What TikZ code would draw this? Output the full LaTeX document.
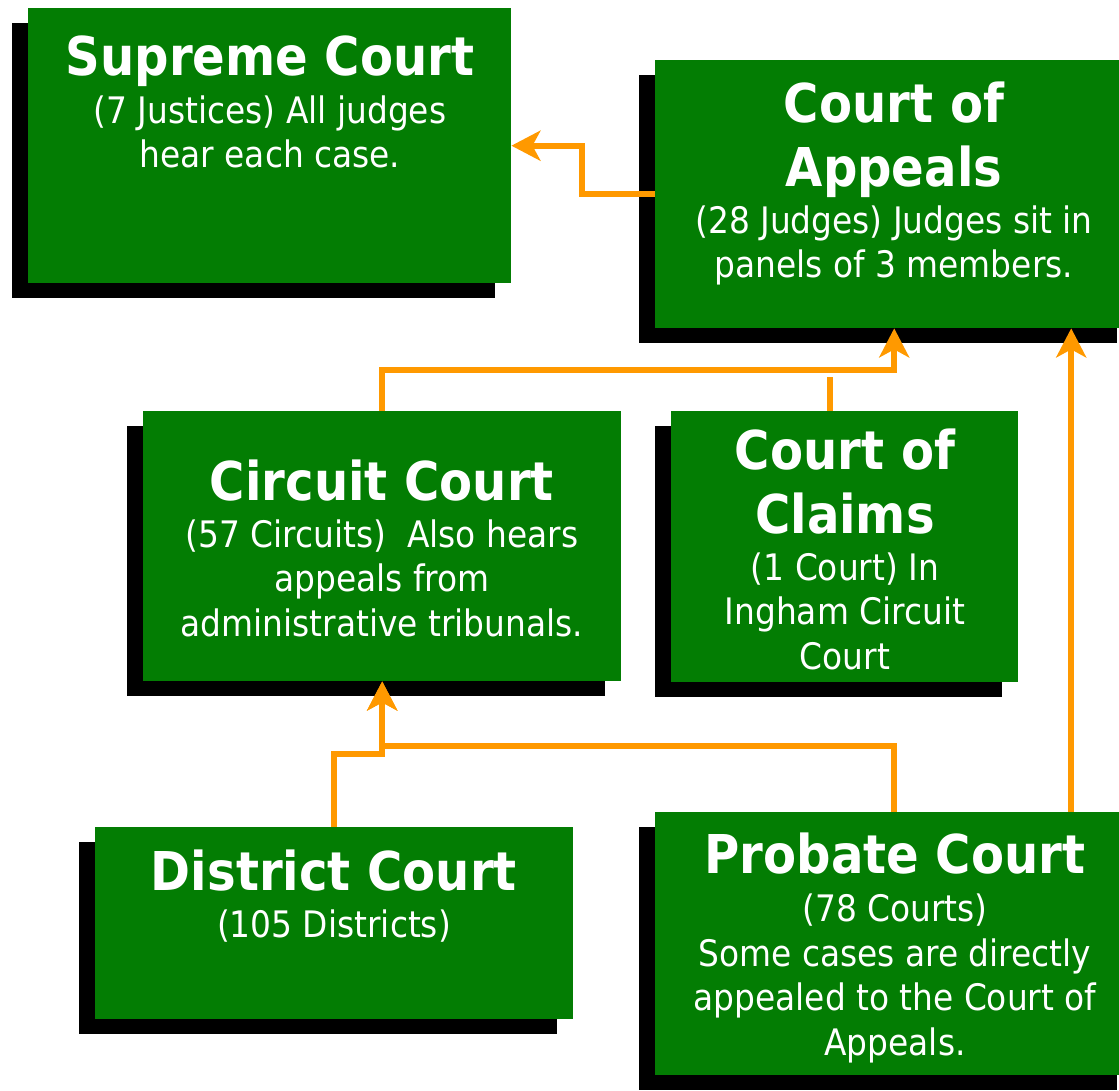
\documentclass[tikz,border=0pt]{standalone}
\usepackage{fontspec}
\setmainfont{DejaVu Sans Condensed}
\usepackage{tikz}
\usetikzlibrary{arrows.meta,shadows}
\definecolor{CourtGreen}{HTML}{037D03}
\definecolor{AppealOrange}{HTML}{FF9900}

\begin{document}
\begin{tikzpicture}[
  x=1pt, y=-1pt,
  court/.style={fill=CourtGreen, draw=none, anchor=north west, inner sep=0pt,
    drop shadow={shadow xshift=-16pt, shadow yshift=-15pt, fill=black, opacity=1}},
  courtname/.style={text=white, align=center, inner sep=0pt, anchor=base,
    font=\fontsize{53.5}{64}\selectfont\bfseries},
  courtnote/.style={text=white, align=center, inner sep=0pt, anchor=base,
    font=\fontsize{36.5}{44.5}\selectfont},
  appeal/.style={draw=AppealOrange, line width=6pt,
    -{Stealth[length=29pt, width=30pt, inset=8pt]}}
]
\path[use as bounding box, clip] (0,0) rectangle (1119,1091);

% boxes
\node[court, minimum width=483pt, minimum height=275pt] (supreme) at (28,8) {};
\node[court, minimum width=478pt, minimum height=268pt] (appeals) at (655,60) {};
\node[court, minimum width=478pt, minimum height=270pt] (circuit) at (143,411) {};
\node[court, minimum width=347pt, minimum height=271pt] (claims) at (671,411) {};
\node[court, minimum width=478pt, minimum height=192pt] (district) at (95,827) {};
\node[court, minimum width=478pt, minimum height=263pt] (probate) at (655,812) {};

% texts (base = last line)
\node[courtname] (supremename) at (270,76) {Supreme Court};
\node[courtnote] (supremenote) at (270,168) {(7 Justices) All judges\\hear each case.};
\node[courtname] (appealsname) at (894,187) {Court of\\Appeals};
\node[courtnote] (appealsnote) at (894,278) {(28 Judges) Judges sit in\\panels of 3 members.};
\node[courtname] (circuitname) at (382,500) {Circuit Court};
\node[courtnote] (circuitnote) at (382,636) {(57 Circuits)\ \ Also hears\\appeals from\\administrative tribunals.};
\node[courtname] (claimsname) at (845,533) {Court of\\Claims};
\node[courtnote] (claimsnote) at (845,669) {(1 Court) In\\Ingham Circuit\\Court};
\node[courtname] (districtname) at (334,890) {District Court};
\node[courtnote] (districtnote) at (334,937) {(105 Districts)};
\node[courtname] (probatename) at (895,873) {Probate Court};
\node[courtnote] (probatenote) at (895,1055) {(78 Courts)\\Some cases are directly\\appealed to the Court of\\Appeals.};

% appeal routes
\draw[appeal] (appeals.west) -- ++(-73,0) |- (supreme.east);
\draw[appeal] (circuit.north) -- ++(0,-41) -| (appeals.south);
\draw[draw=AppealOrange, line width=6pt] ([xshift=-15pt]claims.north) -- ++(0,-34);
\draw[appeal] (district.north) -- ++(0,-73) -| (circuit.south);
\draw[appeal] (probate.north) -- ++(0,-66) -| (circuit.south);
\draw[appeal] ([xshift=177pt]probate.north) -- ([xshift=177pt]appeals.south);
\end{tikzpicture}
\end{document}
